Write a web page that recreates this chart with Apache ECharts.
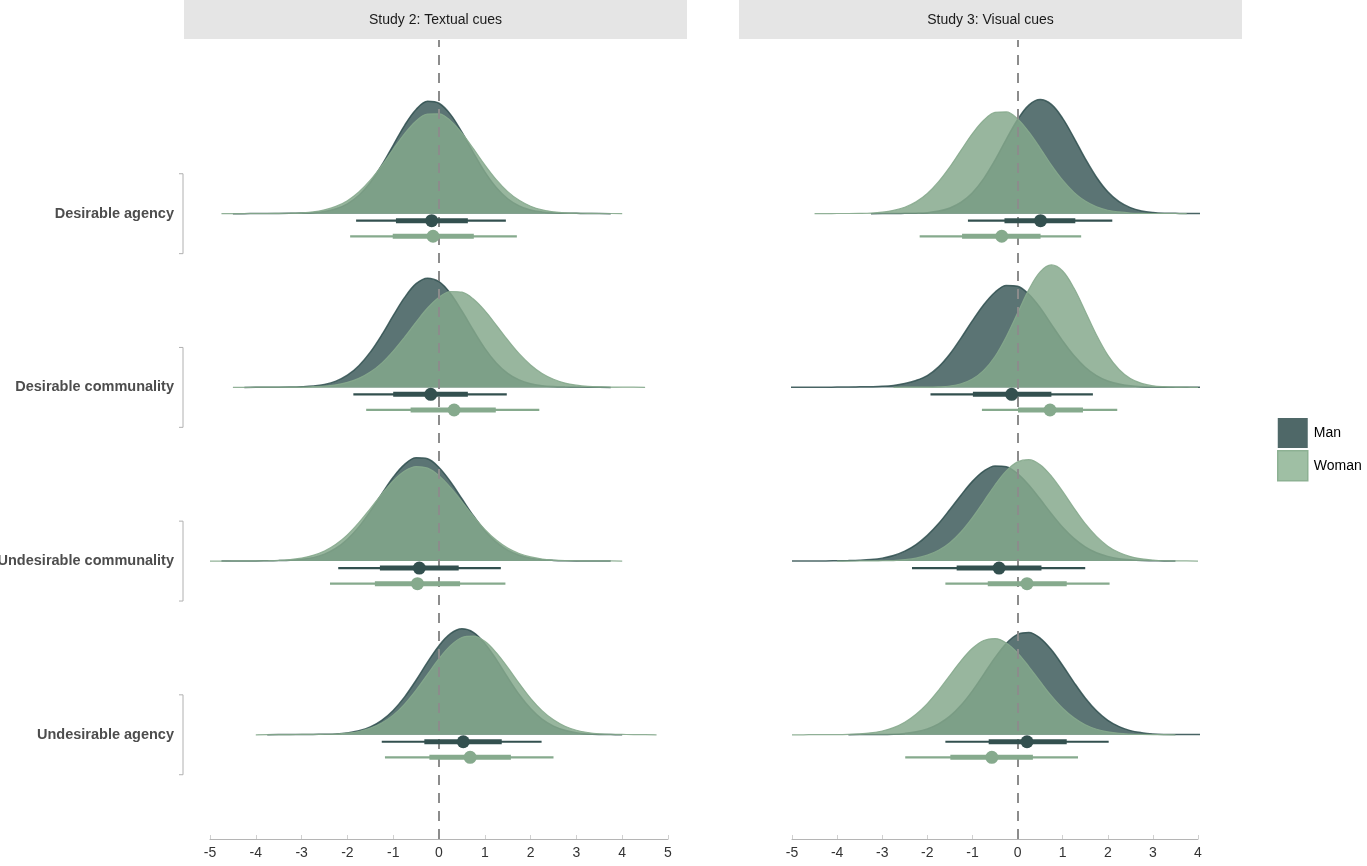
<!DOCTYPE html>
<html>
<head>
<meta charset="utf-8">
<script src="https://cdn.jsdelivr.net/npm/echarts@6/dist/echarts.min.js"></script>
<style>html,body{margin:0;padding:0;background:#fff;}#chart{width:1367px;height:866px;}</style>
</head>
<body>
<div id="chart"></div>
<script>
// ---------- DATA ----------
const panelTitles = ['Study 2: Textual cues', 'Study 3: Visual cues'];
const categories = ['Desirable agency', 'Desirable communality', 'Undesirable communality', 'Undesirable agency'];
const groups = ['Man', 'Woman'];
const study2Ticks = [-5, -4, -3, -2, -1, 0, 1, 2, 3, 4, 5];
const study3Ticks = [-5, -4, -3, -2, -1, 0, 1, 2, 3, 4];

// point intervals: [point, thickLow, thickHigh, thinLow, thinHigh], one per category
const study2Man = [
  [-0.16, -0.94, 0.63, -1.81, 1.46],
  [-0.18, -1.00, 0.63, -1.87, 1.48],
  [-0.43, -1.29, 0.43, -2.20, 1.35],
  [0.53, -0.32, 1.37, -1.25, 2.24]
];
const study2Woman = [
  [-0.13, -1.01, 0.76, -1.94, 1.70],
  [0.33, -0.62, 1.24, -1.59, 2.19],
  [-0.47, -1.40, 0.46, -2.38, 1.45],
  [0.68, -0.21, 1.57, -1.18, 2.50]
];
const study3Man = [
  [0.51, -0.29, 1.28, -1.10, 2.10],
  [-0.13, -0.99, 0.75, -1.93, 1.67],
  [-0.41, -1.35, 0.53, -2.34, 1.50],
  [0.21, -0.64, 1.09, -1.60, 2.02]
];
const study3Woman = [
  [-0.35, -1.23, 0.51, -2.17, 1.41],
  [0.72, 0.01, 1.45, -0.79, 2.21],
  [0.21, -0.66, 1.09, -1.60, 2.04],
  [-0.57, -1.49, 0.34, -2.49, 1.34]
];

// density heights (in row units), sampled every densityStep starting at the given x
const densityStep = 0.25;
const study2ManStart = [-4.5, -4.25, -4.75, -3.75];
const study2ManDensity = [
  [0,0,0.001,0.001,0.001,0.002,0.004,0.006,0.012,0.028,0.057,0.106,0.180,0.279,0.394,0.509,0.600,0.647,0.636,0.572,0.469,0.352,0.241,0.151,0.086,0.045,0.021,0.010,0.005,0.003,0.002,0.001,0.001,0],
  [0,0.001,0.001,0.001,0.002,0.004,0.008,0.017,0.036,0.070,0.125,0.203,0.302,0.413,0.518,0.597,0.629,0.609,0.541,0.440,0.329,0.225,0.141,0.081,0.043,0.021,0.010,0.005,0.003,0.002,0.001,0.001,0],
  [0,0,0.001,0.001,0.002,0.003,0.005,0.010,0.020,0.040,0.074,0.126,0.197,0.287,0.387,0.483,0.557,0.595,0.589,0.539,0.457,0.359,0.261,0.175,0.109,0.063,0.034,0.017,0.008,0.004,0.002,0.001,0.001,0.001,0],
  [0,0.001,0.001,0.001,0.002,0.003,0.005,0.011,0.023,0.045,0.083,0.140,0.218,0.314,0.418,0.513,0.582,0.610,0.590,0.526,0.434,0.330,0.232,0.151,0.090,0.050,0.026,0.012,0.005,0.002,0.001,0]
];
const study2WomanStart = [-4.75, -4.5, -5.0, -4.0];
const study2WomanDensity = [
  [0,0,0.001,0.001,0.001,0.002,0.003,0.005,0.010,0.022,0.042,0.075,0.125,0.193,0.277,0.371,0.461,0.534,0.574,0.575,0.536,0.464,0.375,0.281,0.196,0.127,0.077,0.043,0.022,0.011,0.005,0.003,0.002,0.001,0.001,0],
  [0,0,0.001,0.001,0.001,0.002,0.002,0.004,0.007,0.015,0.029,0.052,0.088,0.140,0.209,0.290,0.376,0.457,0.519,0.552,0.548,0.509,0.442,0.359,0.273,0.194,0.129,0.080,0.047,0.025,0.013,0.006,0.003,0.002,0.001,0.001,0],
  [0,0,0.001,0.001,0.001,0.002,0.004,0.009,0.017,0.033,0.058,0.097,0.151,0.221,0.302,0.386,0.462,0.518,0.544,0.535,0.492,0.424,0.343,0.259,0.183,0.121,0.075,0.044,0.024,0.012,0.006,0.003,0.002,0.001,0.001,0.001,0],
  [0,0.001,0.001,0.001,0.002,0.002,0.003,0.004,0.009,0.019,0.038,0.068,0.113,0.177,0.257,0.348,0.438,0.513,0.560,0.568,0.538,0.473,0.388,0.296,0.210,0.139,0.086,0.049,0.026,0.013,0.006,0.003,0.002,0.001,0.001,0]
];
const study3ManStart = [-3.25, -5.75, -5.0, -3.75];
const study3ManDensity = [
  [0,0.001,0.001,0.002,0.003,0.006,0.015,0.033,0.066,0.121,0.202,0.308,0.428,0.541,0.625,0.657,0.629,0.549,0.437,0.317,0.210,0.126,0.069,0.035,0.016,0.007,0.003,0.002,0.001,0.001,0.001,0],
  [0,0,0,0.001,0.001,0.001,0.001,0.002,0.002,0.003,0.004,0.006,0.011,0.022,0.040,0.068,0.118,0.192,0.285,0.384,0.476,0.548,0.587,0.582,0.536,0.459,0.363,0.268,0.183,0.116,0.068,0.037,0.019,0.009,0.004,0.002,0.001,0.001,0.001,0.001,0],
  [0,0,0.001,0.001,0.002,0.003,0.005,0.009,0.017,0.032,0.057,0.095,0.148,0.216,0.297,0.381,0.459,0.518,0.548,0.543,0.504,0.438,0.357,0.273,0.195,0.131,0.082,0.048,0.027,0.014,0.007,0.003,0.002,0.001,0],
  [0,0.001,0.001,0.001,0.003,0.008,0.017,0.034,0.063,0.107,0.171,0.253,0.348,0.444,0.526,0.578,0.589,0.557,0.489,0.399,0.302,0.212,0.138,0.083,0.047,0.024,0.012,0.005,0.002,0.001,0.001,0.001,0]
];
const study3WomanStart = [-4.5, -2.75, -4.0, -5.0];
const study3WomanDensity = [
  [0,0,0.001,0.001,0.002,0.004,0.009,0.019,0.037,0.068,0.116,0.184,0.269,0.366,0.461,0.538,0.583,0.586,0.546,0.471,0.378,0.280,0.193,0.123,0.073,0.040,0.020,0.010,0.004,0.002,0.001,0.001,0.001,0],
  [0,0.001,0.001,0.001,0.003,0.008,0.021,0.048,0.098,0.178,0.292,0.428,0.563,0.665,0.705,0.670,0.572,0.439,0.302,0.186,0.103,0.051,0.023,0.009,0.004,0.002,0.001,0],
  [0,0,0.001,0.001,0.002,0.003,0.008,0.017,0.034,0.062,0.106,0.169,0.250,0.343,0.438,0.519,0.571,0.584,0.555,0.489,0.401,0.305,0.215,0.142,0.086,0.049,0.026,0.013,0.006,0.002,0.001,0.001,0],
  [0,0,0.001,0.001,0.001,0.002,0.005,0.011,0.022,0.041,0.072,0.118,0.179,0.256,0.342,0.427,0.498,0.543,0.554,0.529,0.472,0.393,0.307,0.224,0.153,0.098,0.058,0.032,0.017,0.008,0.004,0.002,0.001,0.001,0]
];

// ---------- STYLE ----------
const FONT = 'Liberation Sans, Arial, Helvetica, sans-serif';
const MAN = { fill: 'rgb(47,79,79)', fillOpacity: 0.79, line: '#2f4f4f', lineOpacity: 0.85, interval: '#33504f', z: 2 };
const WOMAN = { fill: 'rgb(132,168,139)', fillOpacity: 0.84, line: '#86aa8d', lineOpacity: 0.9, interval: '#86aa8d', z: 3 };
const intervalOffset = [-0.04, -0.13];

const panels = [
  { ticks: study2Ticks, man: study2ManDensity, manStart: study2ManStart, woman: study2WomanDensity, womanStart: study2WomanStart, manInt: study2Man, womanInt: study2Woman },
  { ticks: study3Ticks, man: study3ManDensity, manStart: study3ManStart, woman: study3WomanDensity, womanStart: study3WomanStart, manInt: study3Man, womanInt: study3Woman }
];

const grids = [
  { left: 210, width: 458, top: 40, height: 799, containLabel: false, outerBoundsMode: 'none' },
  { left: 792, width: 406, top: 40, height: 799, containLabel: false, outerBoundsMode: 'none' }
];

const xAxes = panels.map((p, i) => ({
  type: 'value', gridIndex: i, position: 'bottom',
  min: p.ticks[0], max: p.ticks[p.ticks.length - 1], interval: 1,
  axisLine: { show: true, onZero: false, lineStyle: { color: '#b5b5b5', width: 1 } },
  axisTick: { show: true, inside: true, length: 4, lineStyle: { color: '#d0d0d0' } },
  axisLabel: { color: '#333', fontSize: 14, fontFamily: FONT, margin: 7 },
  splitLine: { show: false }
}));

const yAxes = panels.map((p, i) => ({
  type: 'value', gridIndex: i, min: -0.6, max: 4.0,
  axisLine: { show: false }, axisTick: { show: false }, splitLine: { show: false },
  axisLabel: i === 0 ? {
    show: true, customValues: [3, 2, 1, 0],
    formatter: v => categories[3 - Math.round(v)],
    color: '#4d4d4d', fontWeight: 'bold', fontSize: 14.5, fontFamily: FONT, margin: 36
  } : { show: false }
}));

function intervalRenderer(color) {
  return function (params, api) {
    const y = api.value(0);
    const p = api.coord([api.value(1), y]);
    const t1 = api.coord([api.value(2), y]);
    const t2 = api.coord([api.value(3), y]);
    const n1 = api.coord([api.value(4), y]);
    const n2 = api.coord([api.value(5), y]);
    return {
      type: 'group',
      children: [
        { type: 'line', shape: { x1: n1[0], y1: n1[1], x2: n2[0], y2: n2[1] }, style: { stroke: color, lineWidth: 2.2 } },
        { type: 'line', shape: { x1: t1[0], y1: t1[1], x2: t2[0], y2: t2[1] }, style: { stroke: color, lineWidth: 5 } },
        { type: 'circle', shape: { cx: p[0], cy: p[1], r: 6.5 }, style: { fill: color } }
      ]
    };
  };
}

const series = [];
panels.forEach((p, pi) => {
  // zero reference line
  series.push({
    type: 'line', xAxisIndex: pi, yAxisIndex: pi, data: [], z: 1, silent: true,
    markLine: {
      silent: true, symbol: ['none', 'none'], label: { show: false },
      lineStyle: { color: '#8c8c8c', width: 2, type: [10, 8] },
      data: [{ xAxis: 0 }]
    }
  });
  categories.forEach((c, r) => {
    const base = 3 - r;
    [[p.man, p.manStart, MAN, 'Man'], [p.woman, p.womanStart, WOMAN, 'Woman']].forEach(([dens, starts, st, name]) => {
      const start = starts[r];
      series.push({
        type: 'line', name: name, xAxisIndex: pi, yAxisIndex: pi,
        data: dens[r].map((h, i) => [start + i * densityStep, base + h]),
        smooth: 0.35, showSymbol: false, clip: false, z: st.z, silent: true,
        lineStyle: { color: st.line, width: name === 'Man' ? 1.5 : 1.2, opacity: st.lineOpacity },
        areaStyle: { origin: base, color: st.fill, opacity: st.fillOpacity }
      });
    });
  });
  [[p.manInt, MAN, 'Man', 0], [p.womanInt, WOMAN, 'Woman', 1]].forEach(([ints, st, name, gi]) => {
    series.push({
      type: 'custom', name: name, xAxisIndex: pi, yAxisIndex: pi, z: 5, silent: true,
      renderItem: intervalRenderer(st.interval),
      encode: { x: [1, 2, 3, 4, 5], y: 0 },
      data: ints.map((v, r) => [3 - r + intervalOffset[gi], v[0], v[1], v[2], v[3], v[4]])
    });
  });
});

// category brackets on the left of the first panel
series.push({
  type: 'custom', xAxisIndex: 0, yAxisIndex: 0, z: 5, silent: true,
  renderItem: function (params, api) {
    const base = api.value(0);
    const top = api.coord([0, base + 0.23]);
    const bot = api.coord([0, base - 0.23]);
    const x = params.coordSys.x - 27;
    return {
      type: 'polyline',
      shape: { points: [[x - 4, top[1]], [x, top[1]], [x, bot[1]], [x - 4, bot[1]]] },
      style: { stroke: '#b0b0b0', lineWidth: 1, fill: null }
    };
  },
  encode: { y: 0 },
  data: categories.map((c, r) => [3 - r])
});

const strips = [
  { x: 184, w: 503 },
  { x: 739, w: 503 }
];
const graphic = [];
strips.forEach((s, i) => {
  graphic.push({ type: 'rect', left: s.x, top: 0, shape: { width: s.w, height: 39 }, style: { fill: '#e5e5e5' }, silent: true });
  graphic.push({
    type: 'text', x: s.x + s.w / 2, y: 20, silent: true,
    style: { text: panelTitles[i], fill: '#1a1a1a', fontSize: 14, fontFamily: FONT, align: 'center', verticalAlign: 'middle' }
  });
});

const chart = echarts.init(document.getElementById('chart'));
chart.setOption({
  animation: false,
  backgroundColor: '#ffffff',
  grid: grids,
  xAxis: xAxes,
  yAxis: yAxes,
  legend: {
    orient: 'vertical', left: 1272, top: 413, itemWidth: 30, itemHeight: 30, itemGap: 2,
    icon: 'rect', selectedMode: false,
    textStyle: { fontSize: 14, color: '#000', fontFamily: FONT, padding: [0, 0, 0, 1] },
    data: [
      { name: 'Man', itemStyle: { color: '#4f6868', borderWidth: 0 } },
      { name: 'Woman', itemStyle: { color: '#9fbfa4', borderColor: '#8db193', borderWidth: 1.5 } }
    ]
  },
  graphic: graphic,
  series: series
});
</script>
</body>
</html>
